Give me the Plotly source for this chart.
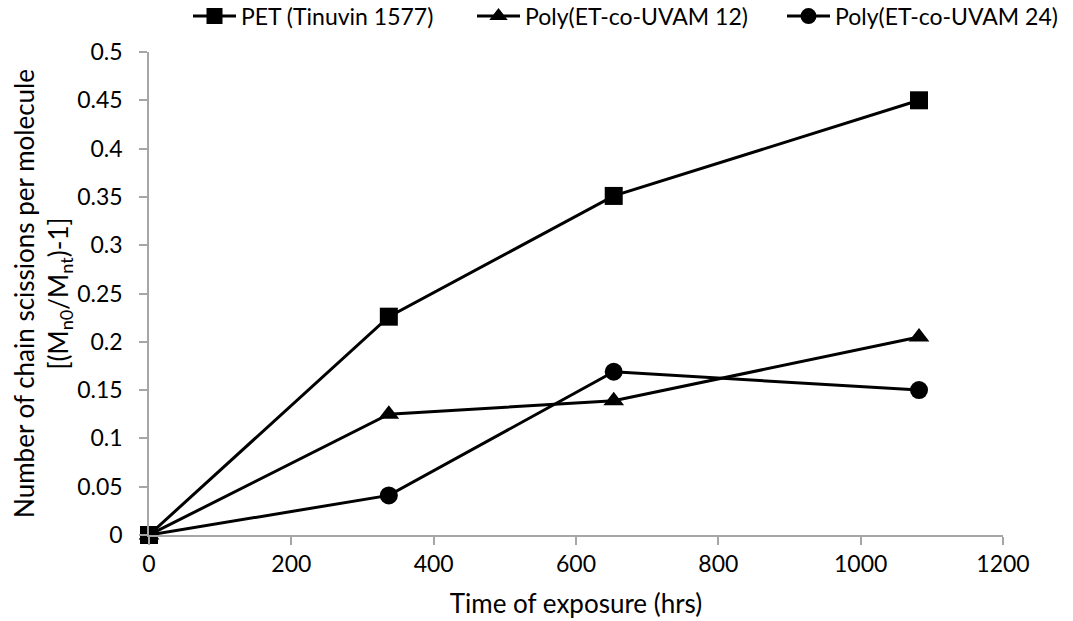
import plotly.graph_objects as go

time_hrs = [0, 337, 653, 1082]
pet_tinuvin = [0, 0.226, 0.351, 0.450]
uvam12 = [0, 0.125, 0.139, 0.205]
uvam24 = [0, 0.041, 0.169, 0.150]

names = ["PET (Tinuvin 1577)", "Poly(ET-co-UVAM 12)", "Poly(ET-co-UVAM 24)"]

FONT = "Lato"
TICK_FS = 23
TITLE_FS = 26
LEG_FS = 23

fig = go.Figure()
series = [
    (names[2], uvam24, "circle", "legend3"),
    (names[1], uvam12, "triangle-up", "legend2"),
    (names[0], pet_tinuvin, "square", "legend"),
]
for name, ys, sym, lg in series:
    fig.add_trace(go.Scatter(
        x=time_hrs, y=ys, name=name, mode="lines+markers",
        line=dict(color="black", width=3),
        marker=dict(symbol=sym, size=18, color="black"),
        cliponaxis=False, legend=lg,
    ))

axis_common = dict(
    showgrid=False, zeroline=False, showline=True, linecolor="#a6a6a6",
    linewidth=1.5, ticks="outside", tickcolor="#a6a6a6", ticklen=8, tickwidth=1.5,
    tickfont=dict(family=FONT, size=TICK_FS, color="black"),
)

def legend_at(px):
    return dict(orientation="h", xref="container", yref="container",
                x=px / 1073, xanchor="left", y=0.974, yanchor="middle",
                font=dict(family=FONT, size=LEG_FS, color="black"),
                itemwidth=43, bgcolor="rgba(0,0,0,0)")

fig.update_layout(
    width=1073, height=621,
    margin=dict(l=149, r=70, t=52, b=86, autoexpand=False),
    paper_bgcolor="white", plot_bgcolor="white",
    font=dict(family=FONT, color="black"),
    showlegend=True,
    legend=legend_at(188),
    legend2=legend_at(472),
    legend3=legend_at(782),
    xaxis=dict(range=[0, 1200], dtick=200, title=dict(text="Time of exposure (hrs)",
               font=dict(family=FONT, size=TITLE_FS), standoff=18), **axis_common),
    yaxis=dict(range=[0, 0.5], dtick=0.05, tickformat="~g", ticklabelstandoff=12,
               title=dict(text="Number of chain scissions per molecule<br>[(M<sub>n0</sub>/M<sub>nt</sub>)-1]",
                          font=dict(family=FONT, size=TITLE_FS), standoff=0), **axis_common),
)

fig.write_html("out.html")
